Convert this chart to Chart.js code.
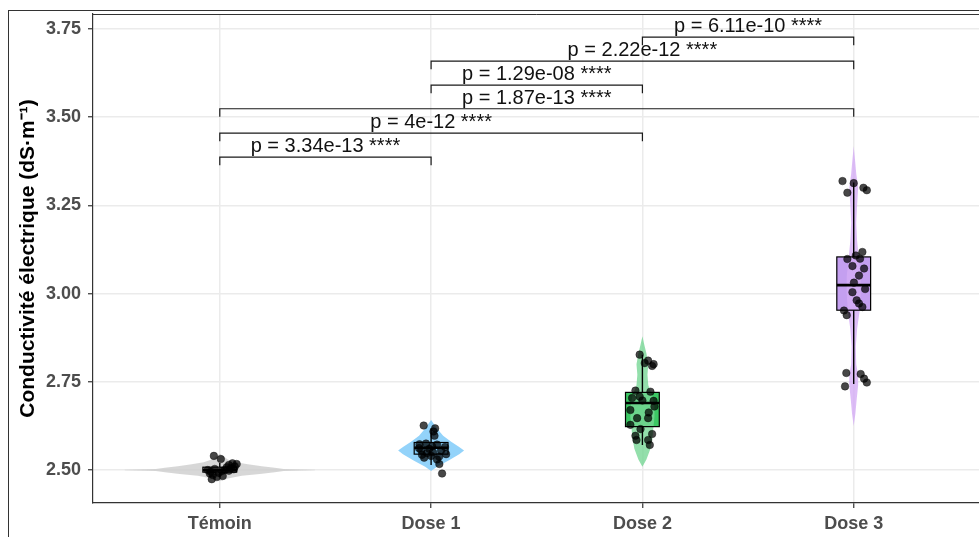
<!DOCTYPE html>
<html>
<head>
<meta charset="utf-8">
<script src="https://cdn.jsdelivr.net/npm/chart.js@4.4.1/dist/chart.umd.min.js"></script>
<style>
    html, body { margin: 0; padding: 0; background: #fff; overflow: hidden; }
    #wrap { position: relative; width: 979px; height: 537px; overflow: hidden; }
    #frame { position: absolute; left: 8px; top: 10px; right: 0; bottom: 0;
             border-left: 1px solid #333; border-top: 1px solid #333; pointer-events: none; }
</style>
</head>
<body>
<div id="wrap">
    <canvas id="chart" width="985" height="537"></canvas>
    <div id="frame"></div>
</div>
<script>
// categories and axis ticks
const categories = ["Témoin", "Dose 1", "Dose 2", "Dose 3"];
const yTicks = [2.5, 2.75, 3.0, 3.25, 3.5, 3.75];

// jittered observations (value, horizontal jitter in category units)
const pointsTemoin = [2.540, 2.531, 2.519, 2.514, 2.517, 2.500, 2.486, 2.480, 2.500, 2.505, 2.495, 2.492, 2.508, 2.502, 2.503, 2.497, 2.490, 2.510, 2.483, 2.498, 2.474];
const jitterTemoin = [-0.028, 0.005, 0.060, 0.043, 0.080, -0.057, -0.033, -0.014, 0.024, 0.052, -0.043, -0.005, 0.033, 0.066, -0.024, 0.010, -0.047, 0.071, 0.014, 0.043, -0.038];
const pointsDose1 = [2.626, 2.618, 2.609, 2.597, 2.573, 2.490, 2.543, 2.517, 2.575, 2.572, 2.565, 2.560, 2.556, 2.555, 2.550, 2.548, 2.545, 2.540, 2.535, 2.530, 2.562, 2.567, 2.538];
const jitterDose1 = [-0.035, 0.019, 0.011, 0.016, -0.055, 0.052, -0.043, 0.039, -0.024, 0.028, 0.066, -0.009, -0.047, 0.047, 0.009, -0.019, 0.071, 0.000, -0.033, 0.028, -0.057, 0.005, 0.038];
const pointsDose2 = [2.827, 2.803, 2.810, 2.800, 2.795, 2.725, 2.722, 2.704, 2.708, 2.697, 2.696, 2.670, 2.663, 2.647, 2.647, 2.628, 2.616, 2.597, 2.602, 2.585, 2.585, 2.571, 2.680];
const jitterDose2 = [-0.013, 0.011, 0.027, 0.053, 0.046, -0.033, 0.038, -0.049, -0.013, 0.000, 0.053, -0.057, 0.030, -0.025, 0.027, -0.057, -0.009, -0.033, 0.046, -0.028, 0.027, 0.035, 0.057];
const pointsDose3 = [3.319, 3.313, 3.286, 3.300, 3.293, 3.118, 3.098, 3.099, 3.078, 3.071, 3.051, 3.031, 3.004, 3.013, 2.981, 2.972, 2.962, 2.952, 2.939, 2.775, 2.772, 2.759, 2.748, 2.737, 3.108];
const jitterDose3 = [-0.053, 0.000, -0.030, 0.046, 0.062, 0.041, -0.030, 0.030, -0.006, 0.049, 0.025, 0.001, -0.006, 0.054, 0.014, 0.025, 0.041, -0.046, -0.033, -0.035, 0.033, 0.049, 0.062, -0.041, 0.010];

// boxplot statistics per category
const boxLow = [2.480, 2.514, 2.571, 2.744];
const boxQ1 = [2.494, 2.545, 2.623, 2.953];
const boxMedian = [2.500, 2.563, 2.690, 3.024];
const boxQ3 = [2.508, 2.578, 2.720, 3.104];
const boxHigh = [2.520, 2.618, 2.827, 3.315];

// violin outlines: value levels and density half-widths (category units)
const violinLevelsTemoin = [2.468, 2.476, 2.484, 2.489, 2.4935, 2.497, 2.4995, 2.5005, 2.503, 2.5065, 2.511, 2.516, 2.522, 2.530, 2.538, 2.546];
const violinWidthTemoin = [0, 0.038, 0.104, 0.19, 0.26, 0.303, 0.45, 0.45, 0.303, 0.26, 0.199, 0.133, 0.076, 0.038, 0.019, 0];
const violinLevelsDose1 = [2.497, 2.509, 2.528, 2.545, 2.555, 2.565, 2.580, 2.597, 2.614, 2.630, 2.642];
const violinWidthDose1 = [0, 0.028, 0.085, 0.133, 0.156, 0.133, 0.095, 0.057, 0.033, 0.014, 0];
const violinLevelsDose2 = [2.509, 2.53, 2.56, 2.59, 2.62, 2.65, 2.68, 2.71, 2.74, 2.77, 2.80, 2.83, 2.855, 2.879];
const violinWidthDose2 = [0, 0.019, 0.038, 0.047, 0.052, 0.057, 0.057, 0.047, 0.028, 0.024, 0.028, 0.019, 0.009, 0];
const violinLevelsDose3 = [2.625, 2.66, 2.70, 2.74, 2.77, 2.80, 2.85, 2.90, 2.95, 3.00, 3.05, 3.10, 3.15, 3.20, 3.25, 3.30, 3.34, 3.38, 3.418];
const violinWidthDose3 = [0, 0.008, 0.014, 0.021, 0.021, 0.012, 0.010, 0.016, 0.028, 0.033, 0.033, 0.024, 0.016, 0.012, 0.016, 0.021, 0.012, 0.006, 0];

// pairwise comparisons
const bracketFrom = [0, 0, 0, 1, 1, 2];
const bracketTo = [1, 2, 3, 2, 3, 3];
const bracketY = [3.387, 3.455, 3.524, 3.591, 3.659, 3.727];
const bracketText = ["p = 3.34e-13 ****", "p = 4e-12 ****", "p = 1.87e-13 ****",
                     "p = 1.29e-08 ****", "p = 2.22e-12 ****", "p = 6.11e-10 ****"];

const groupPoints = [pointsTemoin, pointsDose1, pointsDose2, pointsDose3];
const groupJitter = [jitterTemoin, jitterDose1, jitterDose2, jitterDose3];
const violinLevels = [violinLevelsTemoin, violinLevelsDose1, violinLevelsDose2, violinLevelsDose3];
const violinWidth = [violinWidthTemoin, violinWidthDose1, violinWidthDose2, violinWidthDose3];

const violinColors = ["rgba(205,205,205,0.8)", "rgba(135,206,250,0.9)", "rgba(120,215,150,0.8)", "rgba(212,172,245,0.8)"];
const boxColors = ["#a8a8a8", "#4fb8ea", "#3cc864", "#c49ff0"];
const BOX_HALF = 0.08;
const TIP = 0.023;
const FONT = "'Liberation Sans', Arial, sans-serif";

const scatterData = [];
groupPoints.forEach((vals, i) => {
    vals.forEach((v, k) => scatterData.push({ x: i + groupJitter[i][k], y: v }));
});

const shapesPlugin = {
    id: "violinBox",
    beforeDatasetsDraw(chart) {
        const { ctx, chartArea, scales: { x, y } } = chart;
        ctx.save();
        ctx.beginPath();
        ctx.rect(chartArea.left, chartArea.top, chartArea.width, chartArea.height);
        ctx.clip();
        categories.forEach((_, i) => {
            const left = x.getPixelForValue(i - BOX_HALF);
            const right = x.getPixelForValue(i + BOX_HALF);
            const top = y.getPixelForValue(boxQ3[i]);
            const bottom = y.getPixelForValue(boxQ1[i]);
            const cx = x.getPixelForValue(i);

            ctx.fillStyle = boxColors[i];
            ctx.fillRect(left, top, right - left, bottom - top);

            // violin over the box fill
            const lv = violinLevels[i];
            const wd = violinWidth[i];
            ctx.beginPath();
            lv.forEach((v, k) => {
                const px = x.getPixelForValue(i - wd[k]);
                const py = y.getPixelForValue(v);
                if (k === 0) ctx.moveTo(px, py); else ctx.lineTo(px, py);
            });
            for (let k = lv.length - 1; k >= 0; k--) {
                ctx.lineTo(x.getPixelForValue(i + wd[k]), y.getPixelForValue(lv[k]));
            }
            ctx.closePath();
            ctx.fillStyle = violinColors[i];
            ctx.fill();

            // whiskers
            ctx.strokeStyle = "#000";
            ctx.lineWidth = 1.4;
            ctx.beginPath();
            ctx.moveTo(cx, y.getPixelForValue(boxHigh[i]));
            ctx.lineTo(cx, top);
            ctx.moveTo(cx, bottom);
            ctx.lineTo(cx, y.getPixelForValue(boxLow[i]));
            ctx.stroke();

            ctx.lineWidth = 1.2;
            ctx.strokeRect(left, top, right - left, bottom - top);

            ctx.lineWidth = 2.6;
            ctx.beginPath();
            const my = y.getPixelForValue(boxMedian[i]);
            ctx.moveTo(left, my);
            ctx.lineTo(right, my);
            ctx.stroke();
        });
        ctx.restore();
    },
    afterDraw(chart) {
        const { ctx, chartArea, scales: { x, y } } = chart;
        ctx.save();
        // panel border on top
        ctx.strokeStyle = "#333";
        ctx.lineWidth = 1;
        ctx.beginPath();
        ctx.moveTo(chartArea.left, chartArea.top + 0.5);
        ctx.lineTo(chartArea.right, chartArea.top + 0.5);
        ctx.stroke();

        // significance brackets
        ctx.strokeStyle = "#1a1a1a";
        ctx.lineWidth = 1.2;
        ctx.fillStyle = "#111";
        ctx.font = "20px " + FONT;
        ctx.textAlign = "center";
        ctx.textBaseline = "alphabetic";
        bracketY.forEach((b, k) => {
            const x1 = x.getPixelForValue(bracketFrom[k]);
            const x2 = x.getPixelForValue(bracketTo[k]);
            const yl = y.getPixelForValue(b);
            const yt = y.getPixelForValue(b - TIP);
            ctx.beginPath();
            ctx.moveTo(x1, yt);
            ctx.lineTo(x1, yl);
            ctx.lineTo(x2, yl);
            ctx.lineTo(x2, yt);
            ctx.stroke();
            ctx.fillText(bracketText[k], (x1 + x2) / 2, yl - 5);
        });
        ctx.restore();
    },
};

new Chart(document.getElementById("chart"), {
    type: "scatter",
    data: {
        datasets: [{
            data: scatterData,
            pointRadius: 3.8,
            backgroundColor: "rgba(0,0,0,0.72)",
            borderColor: "rgba(0,0,0,0.75)",
            borderWidth: 0.5,
        }],
    },
    options: {
        responsive: false,
        animation: false,
        devicePixelRatio: 1,
        layout: { padding: { top: 14, left: 0, right: 0, bottom: 0 } },
        plugins: {
            legend: { display: false },
            tooltip: { enabled: false },
        },
        scales: {
            x: {
                type: "linear",
                min: -0.6,
                max: 3.6,
                afterBuildTicks: (axis) => {
                    axis.ticks = categories.map((_, i) => ({ value: i }));
                },
                afterFit: (axis) => {
                    axis.height = 34;
                    axis.paddingLeft = 0;
                    axis.paddingRight = 0;
                },
                ticks: {
                    callback: (v) => categories[v],
                    autoSkip: false,
                    maxRotation: 0,
                    color: "#4d4d4d",
                    padding: 5,
                    font: { family: FONT, size: 18, weight: "bold" },
                },
                grid: { color: "#ebebeb", lineWidth: 1.5, tickColor: "#333", tickLength: 5, tickWidth: 1.2 },
                border: { color: "#333", width: 1.2 },
            },
            y: {
                min: 2.4065,
                max: 3.7925,
                afterBuildTicks: (axis) => {
                    axis.ticks = yTicks.map((v) => ({ value: v }));
                },
                afterFit: (axis) => {
                    axis.width = 93;
                    axis.paddingTop = 0;
                    axis.paddingBottom = 0;
                },
                ticks: {
                    callback: (v) => v.toFixed(2),
                    color: "#4d4d4d",
                    padding: 7,
                    font: { family: FONT, size: 18, weight: "bold" },
                },
                grid: { color: "#ebebeb", lineWidth: 1.5, tickColor: "#333", tickLength: 5, tickWidth: 1.2 },
                border: { color: "#333", width: 1.2 },
                title: {
                    display: true,
                    text: "Conductivité électrique (dS·m⁻¹)",
                    color: "#000",
                    padding: { top: 16, bottom: 0 },
                    font: { family: FONT, size: 21, weight: "bold" },
                },
            },
        },
    },
    plugins: [shapesPlugin],
});
</script>
</body>
</html>
